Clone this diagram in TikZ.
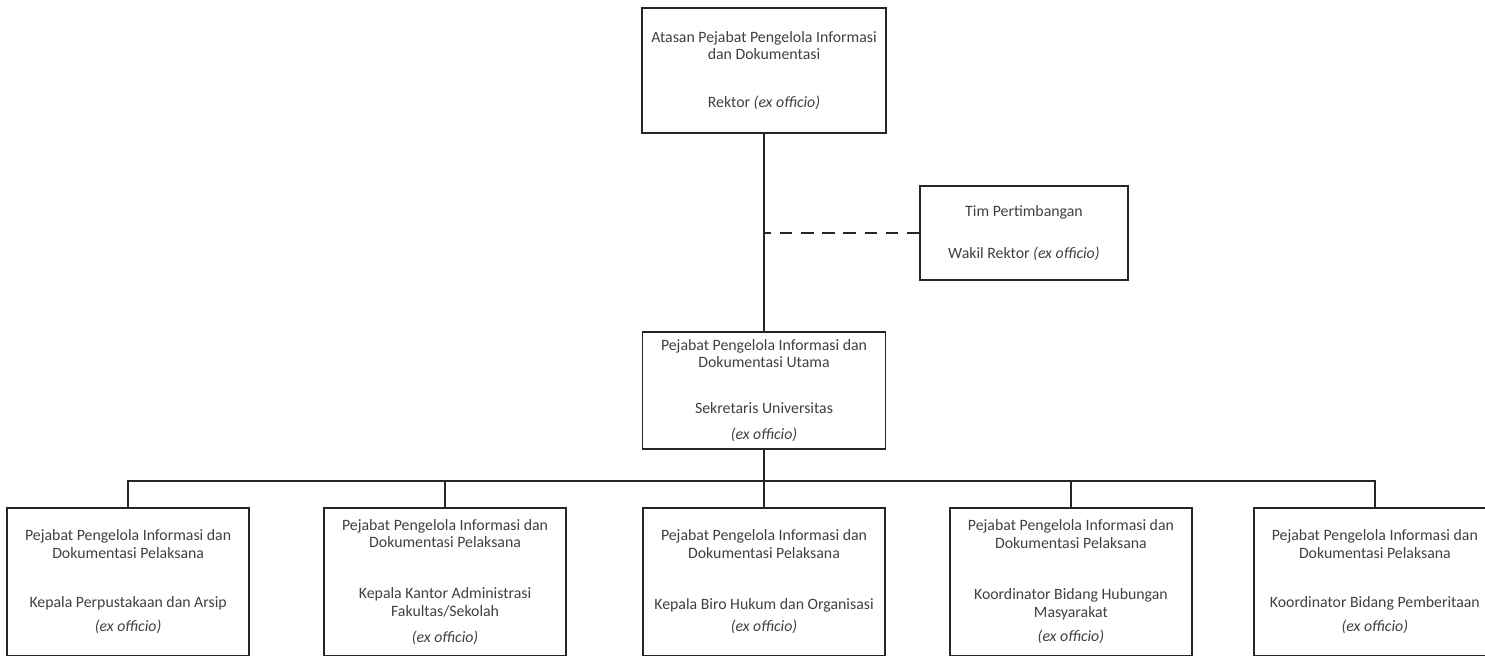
\documentclass[tikz,border=0pt]{standalone}
\usepackage{fontspec}
\setmainfont{Carlito}
\usepackage{xcolor}
\usetikzlibrary{positioning}

\begin{document}
\begin{tikzpicture}[
    node distance=1cm,
    box/.style={rectangle, draw=black!85, line width=1.1pt, align=center, text=black!75, font=\fontsize{9}{10}\selectfont},
    bottombox/.style={box, minimum width=4.84cm, minimum height=2.96cm},
    link/.style={draw=black!85, line width=1.1pt}
]
\useasboundingbox (0,0) rectangle (29.7,-13.1);

% Top level
\node[box, minimum width=4.88cm, minimum height=2.5cm] (atasan) at (15.28,-1.41)
    {Atasan Pejabat Pengelola Informasi\\dan Dokumentasi\\[17pt]Rektor \textit{(ex officio)}};

% Advisory team
\node[box, minimum width=4.16cm, minimum height=1.88cm, below right=1.02cm and 0.64cm of atasan.south east, anchor=north west] (tim)
    {Tim Pertimbangan\\[14pt]Wakil Rektor \textit{(ex officio)}};

% Main officer
\node[box, minimum width=4.86cm, minimum height=2.34cm, below=3.94cm of atasan] (utama)
    {Pejabat Pengelola Informasi dan\\Dokumentasi Utama\\[16pt]Sekretaris Universitas\\[5pt]\textit{(ex officio)}};

% Executing officers
\node[bottombox, below=1.14cm of utama] (biro)
    {Pejabat Pengelola Informasi dan\\Dokumentasi Pelaksana\\[19pt]Kepala Biro Hukum dan Organisasi\\[3pt]\textit{(ex officio)}};
\node[bottombox, left=1.5cm of biro] (kantor)
    {Pejabat Pengelola Informasi dan\\Dokumentasi Pelaksana\\[19pt]Kepala Kantor Administrasi\\Fakultas/Sekolah\\[5pt]\textit{(ex officio)}};
\node[bottombox, left=1.46cm of kantor] (perpus)
    {Pejabat Pengelola Informasi dan\\Dokumentasi Pelaksana\\[18pt]Kepala Perpustakaan dan Arsip\\[4pt]\textit{(ex officio)}};
\node[bottombox, right=1.26cm of biro] (humas)
    {Pejabat Pengelola Informasi dan\\Dokumentasi Pelaksana\\[19pt]Koordinator Bidang Hubungan\\Masyarakat\\[4pt]\textit{(ex officio)}};
\node[bottombox, right=1.2cm of humas] (berita)
    {Pejabat Pengelola Informasi dan\\Dokumentasi Pelaksana\\[18pt]Koordinator Bidang Pemberitaan\\[4pt]\textit{(ex officio)}};

% Connectors
\coordinate[below=0.62cm of utama] (bus);
\draw[link] (atasan) -- (utama);
\draw[link, dash pattern=on 7pt off 5pt] (tim.west) -- (tim.west -| atasan.south);
\draw[link] (utama) -- (bus);
\foreach \n in {perpus, kantor, biro, humas, berita}
    \draw[link] (bus) -| (\n.north);

\end{tikzpicture}
\end{document}
